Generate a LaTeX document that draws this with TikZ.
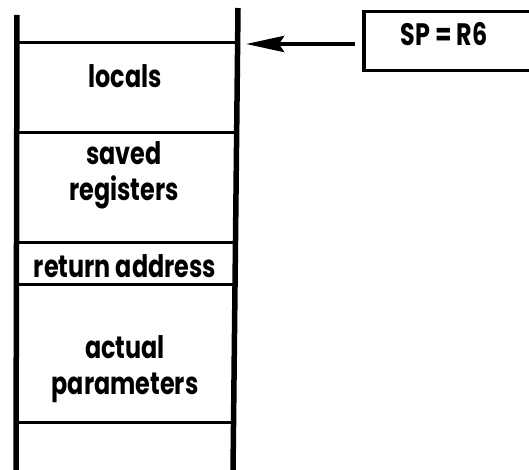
\documentclass[tikz,border=0pt]{standalone}
\usepackage{fontspec}
\setmainfont[FakeStretch=0.77]{Poppins}
\usetikzlibrary{arrows.meta}
\begin{document}
\begin{tikzpicture}[x=1pt,y=-1pt,
  rail/.style={line width=5.5pt},
  divider/.style={line width=3pt},
  label/.style={font=\fontsize{31}{36}\selectfont\bfseries, align=center, inner sep=0pt},
  regbox/.style={line width=3.4pt}]
\useasboundingbox (0,0) rectangle (529,470);
% stack rails
\coordinate (lt) at (17,15);
\coordinate (lb) at (16,472);
\coordinate (rt) at (238,8);
\coordinate (rb) at (233,472);
\draw[rail] (lt) -- (lb);
\draw[rail] (rt) -- (rb);
% frame dividers, clipped between the rails
\begin{scope}
  \clip (lt) -- (lb) -- (rb) -- (rt) -- cycle;
  \foreach \y/\n in {43/d0,133/d1,242/d2,284/d3,422/d4}{
    \coordinate (\n l) at (10,\y);
    \coordinate (\n r) at (245,\y);
    \draw[divider] (\n l) -- (\n r);
  }
\end{scope}
% frame contents
\node[label] (locals) at (125,76) {locals};
\node[label] (saved) at (124,175) {saved\\registers};
\node[label] (ret) at (125,266) {return address};
\node[label] (params) at (125,369) {actual\\parameters};
% stack pointer register
\draw[regbox] (532,11.5) -- (364,11.5) -- (364,70.5) -- (532,70.5);
\node[label] (sp) at (444,34) {SP = R6};
\coordinate (spedge) at (355,44);
\coordinate (tip) at (246,44);
\draw[line width=4.5pt, -{Stealth[length=38pt,width=16pt,inset=5pt]}] (spedge) -- (tip);
\end{tikzpicture}
\end{document}
